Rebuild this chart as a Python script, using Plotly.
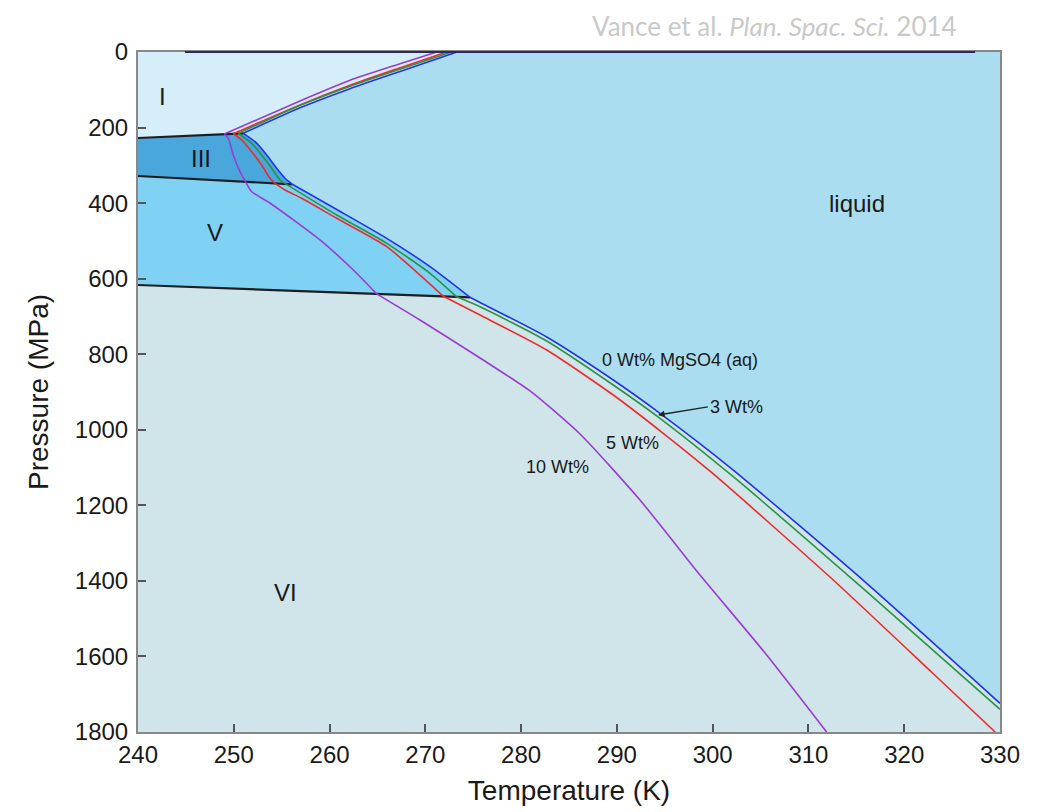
import plotly.graph_objects as go

# ---------------- data (Temperature K, Pressure MPa) ----------------
# 0 wt% MgSO4 (pure water) melting curve, split by ice phase
w0_I_T = [273.3, 267.35, 262.13, 256.91, 250.99]
w0_I_P = [0.0, 51.6, 97.1, 147.7, 215.2]
w0_III_T = [250.99, 252.22, 253.44, 254.48, 255.35, 256.11]
w0_III_P = [215.2, 237.4, 272.6, 307.9, 334.3, 350.2]
w0_V_T = [256.11, 260.75, 265.97, 270.49, 274.66]
w0_V_P = [350.2, 416.9, 493.2, 568.3, 649.3]
w0_VI_T = [274.66, 275.71, 282.67, 289.62, 294.50, 302.15, 316.08, 330.0]
w0_VI_P = [649.3, 663.1, 754.4, 868.2, 956.4, 1106.5, 1406.4, 1724.0]

# 3 wt% MgSO4 (I | III | V | VI liquidus, joined at the triple points)
w3_T = [272.75, 266.85, 261.65, 256.45, 250.47,
        251.87, 252.91, 253.96, 254.83, 255.42,
        260.75, 265.97, 270.49, 273.27,
        275.71, 282.67, 289.62, 294.50, 302.15, 316.08, 330.0]
w3_P = [0.0, 49.5, 95.0, 146.0, 215.8,
        241.7, 272.6, 307.9, 338.8, 349.1,
        431.5, 506.4, 585.8, 648.0,
        674.2, 765.0, 881.5, 969.6, 1124.2, 1428.6, 1739.9]
w3_breaks = [4, 9, 13]

# 5 wt% MgSO4
w5_T = [272.23, 267.0, 262.13, 256.91, 249.95,
        250.83, 251.87, 252.91, 253.78, 254.30,
        255.35, 257.09, 260.75, 265.97, 271.88,
        275.71, 282.67, 289.62, 294.84, 300.07, 312.59, 323.04, 329.5]
w5_P = [0.0, 45.0, 88.1, 140.0, 216.4,
        232.9, 263.9, 299.1, 334.3, 347.7,
        365.3, 387.3, 440.2, 515.4, 646.7,
        696.2, 788.8, 907.9, 1009.3, 1117.0, 1397.6, 1645.9, 1800.0]
w5_breaks = [4, 9, 14]

# 10 wt% MgSO4
w10_T = [271.19, 267.35, 262.13, 256.91, 249.01,
         249.43, 249.95, 250.65, 251.24,
         251.87, 253.70, 259.00, 262.48, 264.92,
         269.44, 275.71, 280.93, 286.15, 292.41, 298.68, 305.64, 311.9]
w10_P = [0.0, 31.2, 74.9, 129.7, 217.0,
         228.4, 272.6, 316.8, 343.5,
         369.8, 398.4, 497.6, 577.0, 640.2,
         709.4, 810.0, 897.3, 1011.2, 1185.9, 1384.4, 1596.1, 1800.0]
w10_breaks = [4, 8, 13]

# ice-ice phase boundaries
I_III_T = [240.0, 250.99]
I_III_P = [227.6, 215.2]
III_V_T = [240.0, 256.11]
III_V_P = [328.2, 350.2]
V_VI_T = [240.0, 274.66]
V_VI_P = [616.8, 649.3]

x_ticks = [240, 250, 260, 270, 280, 290, 300, 310, 320, 330]
y_ticks = [0, 200, 400, 600, 800, 1000, 1200, 1400, 1600, 1800]

T_MIN, T_MAX = 240.0, 330.0
P_MIN, P_MAX = 0.0, 1800.0

# ---------------- styles ----------------
C_LIQ = "#a9ddef"
C_I = "#d5eef9"
C_III = "#49a7dc"
C_V = "#80d2f5"
C_VI = "#cfe5ea"
FONT = "Liberation Sans, Arial, sans-serif"
TXT = "#1a1a1a"

fig = go.Figure()

def poly(T, P, color):
    fig.add_trace(go.Scatter(x=T, y=P, mode="lines", fill="toself", fillcolor=color,
                             line=dict(width=0, color=color), hoverinfo="skip",
                             showlegend=False))

# region polygons built from the boundary curves
poly([T_MIN] + w0_I_T + [I_III_T[0]], [P_MIN] + w0_I_P + [I_III_P[0]], C_I)
poly(I_III_T + w0_III_T + [III_V_T[0]], I_III_P + w0_III_P + [III_V_P[0]], C_III)
poly(III_V_T + w0_V_T + [V_VI_T[0]], III_V_P + w0_V_P + [V_VI_P[0]], C_V)
poly(V_VI_T + w0_VI_T + [T_MAX, T_MIN], V_VI_P + w0_VI_P + [P_MAX, P_MAX], C_VI)

def line(T, P, color, width=1.6, smooth=True):
    fig.add_trace(go.Scatter(x=T, y=P, mode="lines",
                             line=dict(color=color, width=width,
                                       shape="spline" if smooth else "linear", smoothing=0.6),
                             hoverinfo="skip", showlegend=False))

def curve(T, P, breaks, color):
    idx = [0] + breaks + [len(T) - 1]
    for a, b in zip(idx[:-1], idx[1:]):
        line(T[a:b + 1], P[a:b + 1], color)

line(I_III_T, I_III_P, "#1e1e1e", 2.2, False)
line(III_V_T, III_V_P, "#1e1e1e", 2.2, False)
line(V_VI_T, V_VI_P, "#1e1e1e", 2.2, False)

curve(w10_T, w10_P, w10_breaks, "#9a3bd6")
curve(w5_T, w5_P, w5_breaks, "#f02a2a")
curve(w3_T, w3_P, w3_breaks, "#2a9440")
for T, P in [(w0_I_T, w0_I_P), (w0_III_T, w0_III_P), (w0_V_T, w0_V_P), (w0_VI_T, w0_VI_P)]:
    line(T, P, "#2233f0")

ann = []
def label(T, P, text, size):
    ann.append(dict(x=T, y=P, xref="x", yref="y", text=text, showarrow=False,
                    font=dict(family=FONT, size=size, color=TXT)))

label(242.6, 116.5, "I", 24)
label(246.6, 280.6, "III", 24)
label(248.0, 476.5, "V", 24)
label(255.45, 1432, "VI", 24)
label(315.1, 402.3, "liquid", 24)
label(296.6, 815.3, "0 Wt% MgSO4 (aq)", 18)
label(291.6, 1035, "5 Wt%", 18)
label(283.85, 1098.5, "10 Wt%", 18)
ann.append(dict(x=294.3, y=960.9, xref="x", yref="y", ax=299.5, ay=939.5, axref="x", ayref="y",
                text="3 Wt%", xanchor="left", showarrow=True, arrowhead=2, arrowsize=1,
                arrowwidth=1.3, arrowcolor="#222", standoff=0,
                font=dict(family=FONT, size=18, color=TXT)))
ann.append(dict(x=0.952, y=1.0647, xref="paper", yref="paper", xanchor="right", yanchor="top",
                showarrow=False,
                text="Vance et al. <i>Plan. Spac. Sci.</i> 2014",
                font=dict(family="Lato, Open Sans, sans-serif", size=26, color="#c9c9c9")))

fig.update_layout(
    width=1051, height=812,
    margin=dict(l=130, r=59, t=44, b=88),
    paper_bgcolor="white", plot_bgcolor=C_LIQ,
    annotations=ann,
    shapes=[dict(type="line", xref="x", yref="paper", x0=244.9, x1=327.4, y0=1, y1=1,
                 line=dict(color="#2a2a6a", width=2))],
    xaxis=dict(range=[T_MIN, T_MAX], tickvals=x_ticks, ticks="inside", ticklen=8, tickwidth=1.5,
               tickcolor="#555", showline=True, linecolor="#888", linewidth=2, mirror=True,
               showgrid=False, zeroline=False,
               tickfont=dict(family=FONT, size=24, color=TXT),
               title=dict(text="Temperature (K)", font=dict(family=FONT, size=28, color=TXT),
                          standoff=14)),
    yaxis=dict(range=[P_MAX, P_MIN], tickvals=y_ticks, ticks="inside", ticklen=8, tickwidth=1.5,
               tickcolor="#555", showline=True, linecolor="#888", linewidth=2, mirror=True,
               showgrid=False, zeroline=False, ticklabelstandoff=3,
               tickfont=dict(family=FONT, size=24, color=TXT),
               title=dict(text="Pressure (MPa)", font=dict(family=FONT, size=28, color=TXT),
                          standoff=18)),
)

fig.write_html("out.html")
